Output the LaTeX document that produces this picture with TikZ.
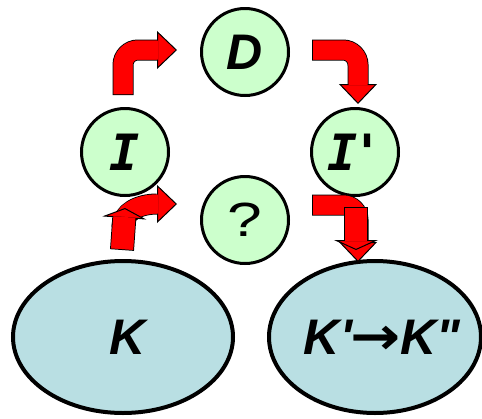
\documentclass[tikz,border=0pt]{standalone}
\usepackage{fontspec}
\setmainfont{Liberation Sans}
\newfontfamily\labelfont{Liberation Sans}
\newfontfamily\slabfont{DejaVu Sans Mono}
\newfontfamily\arrowfont{DejaVu Sans}
\usetikzlibrary{positioning, arrows.meta, shapes.geometric}

\definecolor{stategreen}{HTML}{CCFFCC}
\definecolor{setblue}{HTML}{B9DFE3}

\tikzset{
    bent edge/.style={draw=black, line width=21pt, rounded corners=15pt, shorten >=20pt},
    bent body/.style={draw=red, line width=19pt, rounded corners=15pt, shorten <=1pt,
        -{Triangle[width=38pt, length=20pt, fill=red, color=black, line width'=1pt]}},
    bent cover/.style={draw=red, line width=19pt, rounded corners=15pt, shorten <=1pt, shorten >=19pt},
    stub edge/.style={draw=black, line width=24pt, shorten >=10pt},
    stub body/.style={draw=red, line width=22pt, shorten <=1pt,
        -{Triangle[width=44pt, length=10pt, fill=red, color=black, line width'=1pt]}},
    stub cover/.style={draw=red, line width=22pt, shorten <=1pt, shorten >=9pt}
}

% block arrow: outline, body with head, then cover the seam
\newcommand{\blockarrow}[2][bent]{%
    \draw[#1 edge] #2;
    \draw[#1 body] #2;
    \draw[#1 cover] #2;}

\begin{document}
\begin{tikzpicture}[
        x=1pt, y=-1pt,
        node distance=100pt and 120pt,
        state/.style={
            circle, draw, line width=3pt, fill=stategreen,
            minimum size=87pt, inner sep=0pt,
            font=\labelfont\fontsize{50}{60}\selectfont\bfseries\itshape
        },
        set/.style={
            ellipse, draw, line width=4pt, fill=setblue,
            inner sep=0pt, minimum height=152pt,
            font=\labelfont\fontsize{50}{60}\selectfont\bfseries\itshape
        }
    ]
    \useasboundingbox (0,0) rectangle (482,418);

    \node[state] (D) at (245,52) {D};
    \node[state, on grid, below left=100pt and 120pt of D] (Iin) {\slabfont I};
    \node[state, on grid, below right=100pt and 110pt of D] (Iout) {\slabfont I\kern-5pt'};
    \node[state, on grid, below=168pt of D, font=\labelfont\fontsize{48}{56}\selectfont] (Q) {\scalebox{1.3}[1]{?}};

    \node[set, minimum width=220pt, on grid, below left=185pt and 2pt of Iin] (K) {\makebox[0pt]{\kern10pt K}};
    \node[set, minimum width=212pt, on grid, below right=185pt and 20pt of Iout] (Kk)
        {\makebox[0pt]{\kern14pt K'\kern-1pt{\arrowfont\upshape\bfseries\scalebox{1.2}[1.05]{→}}\kern-1pt K"}};

    % top arrows
    \blockarrow{([xshift=-2pt, yshift=12pt]Iin.north) |- ([xshift=-23pt, yshift=2pt]D.west)}
    \blockarrow{([xshift=22pt, yshift=2pt]D.east) -| ([xshift=3pt, yshift=3pt]Iout.north)}

    % bottom arrows
    \blockarrow{([xshift=-1pt, yshift=31pt]K.north) .. controls +(0,-16) and +(-38,0) .. ([xshift=-23pt, yshift=16pt]Q.west)}
    \blockarrow[stub]{([xshift=-1pt, yshift=9pt]K.north) -- ([yshift=-11pt]Iin.south)}
    \blockarrow{([xshift=22pt, yshift=15pt]Q.east) -| ([xshift=-17pt, yshift=-3pt]Kk.north)}
    \blockarrow[stub]{([xshift=-19pt, yshift=52pt]Kk.north) -- ([xshift=-19pt, yshift=9pt]Kk.north)}

\end{tikzpicture}
\end{document}
